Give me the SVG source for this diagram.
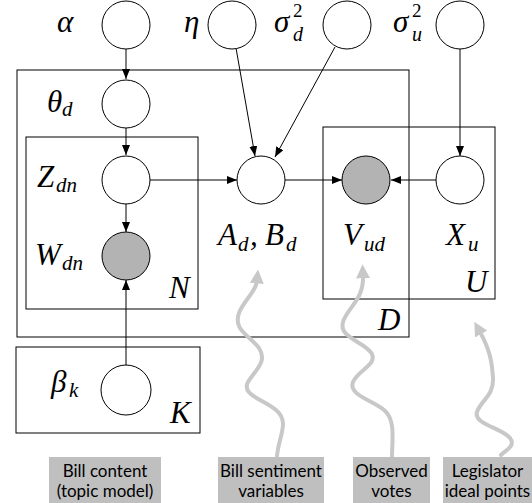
<svg xmlns="http://www.w3.org/2000/svg" width="532" height="503" viewBox="0 0 532 503">
<defs>
<marker id="ah" viewBox="0 0 10 8" refX="10" refY="4" markerWidth="10" markerHeight="8" markerUnits="userSpaceOnUse" orient="auto">
<path d="M0,0 L10,4 L0,8 z" fill="#000"/>
</marker>
<marker id="gh" viewBox="0 0 12 12" refX="2" refY="6" markerWidth="14" markerHeight="14" markerUnits="userSpaceOnUse" orient="auto">
<path d="M0,0 L12,6 L0,12 z" fill="#c8c8c8"/>
</marker>
<style>
.plate{fill:none;stroke:#000;stroke-width:1}
.n{fill:#fff;stroke:#000;stroke-width:1}
.obs{fill:#b3b3b3;stroke:#000;stroke-width:1}
.m{font-style:italic;font-size:31px;fill:#000}
.s{font-style:italic;font-size:21px;fill:#000}
.sup{font-size:19px;fill:#000}
.sb{font-style:italic;font-size:20px;fill:#000}
.e{stroke:#000;stroke-width:1;fill:none;marker-end:url(#ah)}
.w{stroke:#c8c8c8;stroke-width:4;fill:none;stroke-linecap:round}
.lb{fill:#bfbfbf}
.lt{font-size:17px;fill:#000;text-anchor:middle}
</style>
</defs>
<rect width="532" height="503" fill="#fff"/>
<g font-family="'Liberation Serif', 'Times New Roman', 'DejaVu Serif', serif">
<g id="plates">
<rect id="plate-D" class="plate" x="17" y="70" width="392" height="267"/>
<rect id="plate-N" class="plate" x="26" y="137" width="172" height="172"/>
<rect id="plate-U" class="plate" x="323" y="127" width="172" height="172"/>
<rect id="plate-K" class="plate" x="16" y="347" width="184" height="86"/>
<text class="m" x="169" y="298">N</text>
<text class="m" x="465" y="292">U</text>
<text class="m" x="378" y="330">D</text>
<text class="m" x="170" y="423">K</text>
</g>
<g id="connectors">
<line class="e" x1="126" y1="49" x2="126" y2="79"/>
<line class="e" x1="126" y1="128" x2="126" y2="155"/>
<line class="e" x1="126" y1="203" x2="126" y2="232"/>
<line class="e" x1="126" y1="366" x2="126" y2="280"/>
<line class="e" x1="236" y1="48" x2="255" y2="156"/>
<line class="e" x1="335" y1="47" x2="275" y2="157"/>
<line class="e" x1="460" y1="49" x2="460" y2="156"/>
<line class="e" x1="150" y1="180" x2="237" y2="180"/>
<line class="e" x1="285" y1="180" x2="342" y2="180"/>
<line class="e" x1="436" y1="180" x2="391" y2="180"/>
</g>
<g id="alpha"><circle class="n" cx="126" cy="25" r="24"/><text class="m" x="57" y="32">α</text></g>
<g id="eta"><circle class="n" cx="232" cy="25" r="24"/><text class="m" x="184" y="32">η</text></g>
<g id="sigma_d"><circle class="n" cx="347" cy="25" r="24"/><text class="m" x="274" y="32">σ</text><text class="sup" x="293" y="17">2</text><text class="sb" x="293" y="41">d</text></g>
<g id="sigma_u"><circle class="n" cx="460" cy="25" r="24"/><text class="m" x="393" y="32">σ</text><text class="sup" x="412" y="17">2</text><text class="sb" x="412" y="41">u</text></g>
<g id="theta"><circle class="n" cx="126" cy="104" r="24"/><text class="m" x="47" y="112">θ</text><text class="s" x="62" y="116">d</text></g>
<g id="Z"><circle class="n" cx="126" cy="180" r="24"/><text class="m" x="37" y="187">Z</text><text class="s" x="56" y="192">dn</text></g>
<g id="W"><circle class="obs" cx="126" cy="256" r="24"/><text class="m" x="35" y="265">W</text><text class="s" x="62" y="270">dn</text></g>
<g id="AB"><circle class="n" cx="261" cy="180" r="24"/><text class="m" x="218" y="245">A</text><text class="s" x="238" y="251">d</text><text class="m" x="250" y="245">,</text><text class="m" x="265" y="245">B</text><text class="s" x="286" y="251">d</text></g>
<g id="V"><circle class="obs" cx="366" cy="180" r="24"/><text class="m" x="343" y="245">V</text><text class="s" x="364" y="251">ud</text></g>
<g id="X"><circle class="n" cx="460" cy="180" r="24"/><text class="m" x="446" y="245">X</text><text class="s" x="468" y="251">u</text></g>
<g id="beta"><circle class="n" cx="126" cy="390" r="25"/><text class="m" x="51" y="392">β</text><text class="s" x="69" y="397">k</text></g>
</g>
<g id="annotations" font-family="Lato, 'Liberation Sans', sans-serif">
<path class="w" marker-end="url(#gh)" d="M277,456 C279,435 290,422 276,410 C263,399 241,395 248,382 C255,370 268,362 259,348 C249,335 233,330 239,313 C244,300 256,292 257,281"/>
<path class="w" marker-end="url(#gh)" d="M392,457 C392,440 396,420 384,410 C372,400 348,395 353,382 C358,370 377,365 372,354 C366,342 338,338 343,322 C347,308 364,300 363,276"/>
<path class="w" marker-end="url(#gh)" d="M501,455 C506,450 516,446 510,438 C502,428 473,424 477,412 C481,400 494,396 493,378 C492,362 490,350 480,332"/>
<g id="label-topic"><rect class="lb" x="49" y="457" width="112" height="46"/><text class="lt" x="105" y="477">Bill content</text><text class="lt" x="105" y="497">(topic model)</text></g>
<g id="label-sentiment"><rect class="lb" x="218" y="457" width="106" height="46"/><text class="lt" x="271" y="477">Bill sentiment</text><text class="lt" x="271" y="497">variables</text></g>
<g id="label-votes"><rect class="lb" x="353" y="457" width="77" height="46"/><text class="lt" x="391.5" y="477">Observed</text><text class="lt" x="391.5" y="497">votes</text></g>
<g id="label-ideal"><rect class="lb" x="443" y="457" width="89" height="46"/><text class="lt" x="487.5" y="477">Legislator</text><text class="lt" x="487.5" y="497">ideal points</text></g>
</g>
</svg>
